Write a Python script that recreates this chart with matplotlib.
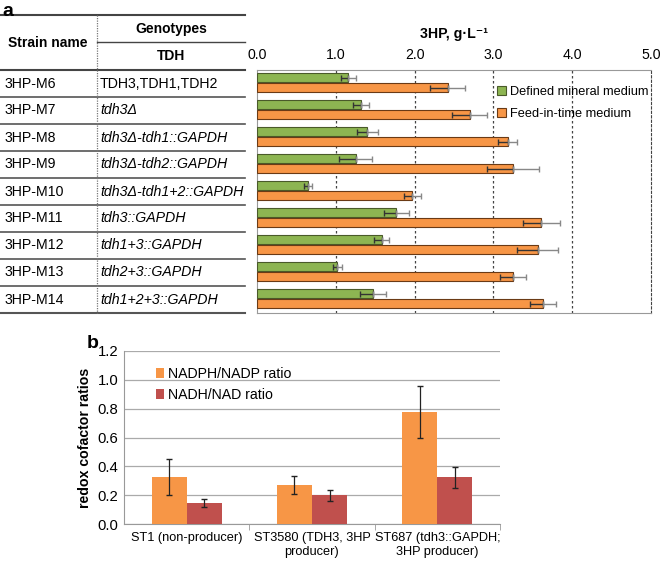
import numpy as np
import matplotlib
matplotlib.use("Agg")
import matplotlib.pyplot as plt
from matplotlib.lines import Line2D

plt.rcParams['font.family'] = ['Liberation Sans', 'DejaVu Sans']

# panel a data
strains = ["3HP-M6", "3HP-M7", "3HP-M8", "3HP-M9", "3HP-M10",
           "3HP-M11", "3HP-M12", "3HP-M13", "3HP-M14"]
genotypes = ["TDH3,TDH1,TDH2", "tdh3Δ", "tdh3Δ-tdh1::GAPDH", "tdh3Δ-tdh2::GAPDH",
             "tdh3Δ-tdh1+2::GAPDH", "tdh3::GAPDH", "tdh1+3::GAPDH",
             "tdh2+3::GAPDH", "tdh1+2+3::GAPDH"]
mineral = [1.16, 1.32, 1.40, 1.25, 0.65, 1.77, 1.58, 1.02, 1.47]
mineral_err = [0.10, 0.10, 0.13, 0.21, 0.05, 0.16, 0.10, 0.06, 0.165]
feed = [2.42, 2.70, 3.18, 3.25, 1.97, 3.61, 3.56, 3.25, 3.63]
feed_err = [0.22, 0.22, 0.12, 0.33, 0.11, 0.23, 0.26, 0.165, 0.165]

# panel b data
groups_b = ["ST1 (non-producer)", "ST3580 (TDH3, 3HP\nproducer)",
            "ST687 (tdh3::GAPDH;\n3HP producer)"]
nadph = [0.323, 0.27, 0.779]
nadph_err = [0.125, 0.065, 0.18]
nadh = [0.147, 0.198, 0.323]
nadh_err = [0.027, 0.037, 0.074]

W, H = 661, 563
fig = plt.figure(figsize=(W / 100, H / 100), dpi=100)


def fx(px):
    return px / W


def fy(py):
    return 1 - py / H


green = '#8db552'
orange = '#f79646'
red = '#c0504d'
fs = 10.2

# ---- panel a: table ----
fig.text(fx(2), fy(11), "a", fontsize=14, fontweight='bold', va='center')


def hline(y, x0, x1, lw=1.2, color='#555555'):
    fig.add_artist(Line2D([fx(x0), fx(x1)], [fy(y), fy(y)], lw=lw, color=color))


hline(15, 0, 245, lw=1.5, color='#444444')
hline(42, 97, 245, lw=1.0, color='#444444')
hline(70, 0, 245, lw=1.5, color='#444444')
row_h = (313 - 70) / 9
for i in range(9):
    hline(70 + row_h * (i + 1), 0, 245, lw=1.5 if i == 8 else 1.2,
          color='#555555')
fig.add_artist(Line2D([fx(97), fx(97)], [fy(15), fy(313)], lw=0.9,
                      color='#777777', linestyle=(0, (1, 1))))

fig.text(fx(48), fy(43), "Strain name", fontsize=fs - 0.2, fontweight='bold',
         ha='center', va='center')
fig.text(fx(171), fy(29), "Genotypes", fontsize=fs - 0.2, fontweight='bold',
         ha='center', va='center')
fig.text(fx(171), fy(56), "TDH", fontsize=fs - 0.2, fontweight='bold',
         ha='center', va='center')
for i in range(9):
    yc = 70 + row_h * (i + 0.5)
    fig.text(fx(5), fy(yc), strains[i], fontsize=fs, va='center')
    fig.text(fx(100), fy(yc), genotypes[i], fontsize=fs, va='center',
             style='normal' if i == 0 else 'italic')

# ---- panel a: bars ----
axa = fig.add_axes([fx(257), fy(313), fx(651) - fx(257), fy(70) - fy(313)])
y = np.arange(len(strains))
bh = 0.35
axa.barh(y - 0.17, mineral, height=bh, color=green, edgecolor='#4a5a2a', lw=0.8,
         label='Defined mineral medium', zorder=3)
axa.barh(y + 0.2, feed, height=bh, color=orange, edgecolor='#6a3a15', lw=0.8,
         label='Feed-in-time medium', zorder=3)
zeros = np.zeros(len(y))
for pos, val, err in [(y - 0.17, mineral, mineral_err), (y + 0.2, feed, feed_err)]:
    axa.errorbar(val, pos, xerr=[err, zeros], fmt='none', ecolor='#333333',
                 elinewidth=1, capsize=2.5, zorder=4)
    axa.errorbar(val, pos, xerr=[zeros, err], fmt='none', ecolor='#888888',
                 elinewidth=1, capsize=2.5, zorder=4)
axa.set_xlim(0, 5)
axa.set_ylim(8.55, -0.45)
axa.set_yticks([])
axa.xaxis.tick_top()
axa.set_xticks(np.arange(0, 5.01, 1.0))
axa.set_xticklabels(["%.1f" % v for v in np.arange(0, 5.01, 1.0)], fontsize=fs)
axa.tick_params(axis='x', length=0, pad=6)
for v in [1, 2, 3, 4]:
    axa.axvline(v, color='#444444', lw=0.9, linestyle=(0, (2, 2)), zorder=1)
for s in ['left', 'bottom', 'top']:
    axa.spines[s].set_color('#999999')
axa.spines['right'].set_linestyle((0, (2, 2)))
axa.spines['right'].set_color('#444444')
axa.set_title("3HP, g·L⁻¹", fontsize=fs, fontweight='bold', pad=23)
axa.legend(loc='upper left', bbox_to_anchor=(0.59, 0.965), frameon=False,
           fontsize=9.2, handlelength=0.7, handleheight=0.7,
           handletextpad=0.3, labelspacing=0.75, borderaxespad=0.2)

# ---- panel b ----
fig.text(fx(87), fy(344), "b", fontsize=14, fontweight='bold', va='center')
axb = fig.add_axes([fx(124), fy(524), fx(500) - fx(124), fy(351) - fy(524)])
x = np.arange(len(groups_b))
bw = 0.28
axb.bar(x - bw / 2, nadph, width=bw, color=orange, label='NADPH/NADP ratio', zorder=3)
axb.bar(x + bw / 2, nadh, width=bw, color=red, label='NADH/NAD ratio', zorder=3)
axb.errorbar(x - bw / 2, nadph, yerr=nadph_err, fmt='none', ecolor='#222222',
             elinewidth=0.9, capsize=2.5, zorder=4)
axb.errorbar(x + bw / 2, nadh, yerr=nadh_err, fmt='none', ecolor='#222222',
             elinewidth=0.9, capsize=2.5, zorder=4)
axb.set_xlim(-0.5, 2.5)
axb.set_ylim(0, 1.2)
axb.set_yticks(np.arange(0, 1.21, 0.2))
axb.set_yticklabels(["%.1f" % v for v in np.arange(0, 1.21, 0.2)], fontsize=fs + 0.5)
axb.set_xticks(x)
axb.set_xticklabels(groups_b, fontsize=9.2)
axb.tick_params(axis='x', length=0, pad=6)
axb.tick_params(axis='y', length=0, pad=4)
axb.set_xticks([0.5, 1.5, 2.5], minor=True)
axb.tick_params(axis='x', which='minor', length=4, color='#999999')
axb.yaxis.grid(True, color='#aaaaaa', lw=0.9, zorder=0)
for s in ['top', 'right']:
    axb.spines[s].set_visible(False)
axb.spines['left'].set_color('#999999')
axb.spines['bottom'].set_color('#999999')
axb.set_ylabel("redox cofactor ratios", fontsize=fs, fontweight='bold')
axb.legend(loc='upper left', bbox_to_anchor=(0.05, 0.98), frameon=False,
           fontsize=fs, handlelength=0.6, handleheight=0.7,
           handletextpad=0.3, labelspacing=0.5)

fig.savefig("out.png", dpi=100)
